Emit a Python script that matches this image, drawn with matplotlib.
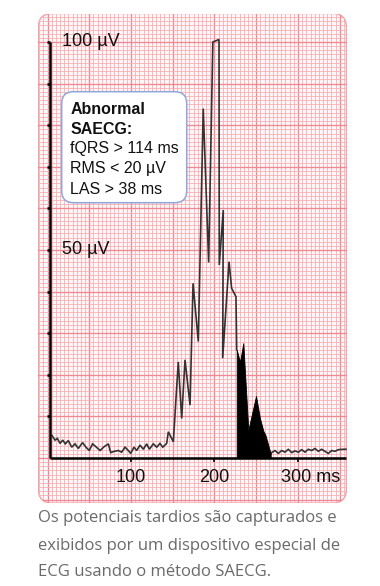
import numpy as np
import matplotlib
matplotlib.use("Agg")
import matplotlib.pyplot as plt
from matplotlib.patches import FancyBboxPatch

# signal averaged ECG trace (time in ms, amplitude in uV)
sig_ms = [5.4, 9, 11.8, 15, 18.2, 21.3, 24.9, 29, 33, 36.9, 42, 46, 50, 54, 58,
          63, 67.7, 72.9, 75.7, 80, 84.8, 88.8, 92.8, 96.8, 99.6, 103.6, 106.8,
          110.8, 114.8, 118.8, 122, 126.7, 130.8, 134.7, 138, 142.7, 144.7,
          150.7, 156.6, 160.7, 164.7, 170.7, 174.3, 180.6, 186.5, 193, 198,
          205.4, 205.7, 210.5, 209.8, 217.4, 220.5, 225.7, 226.6]
sig_uv = [5.4, 4.3, 4.7, 3.5, 4.3, 3.4, 4.2, 2.6, 3.4, 2.3, 3.7, 2.6, 1.8, 3.4,
          2.7, 1.8, 2.7, 3.4, 1.3, 1.6, 1.8, 1.4, 2.6, 1.8, 1.1, 2.6, 1.8, 3.1,
          2.1, 3.4, 2.1, 3.4, 2.6, 3.5, 2.6, 3.5, 6.3, 3.9, 23.1, 9.5, 23.6,
          12.7, 42, 28, 84, 47, 100, 100.6, 46.4, 59.6, 24, 47.2, 40.8, 38.8, 26]

# late potentials (filled black)
lp_ms = [226.6, 230.5, 234.5, 240.5, 249.7, 254.5, 258.5, 261, 267.3]
lp_uv = [26, 23.1, 27.6, 6.7, 14.9, 9.5, 6.5, 5.5, 1.0]

# tail noise after the late potentials
tail_ms = [267.3, 268.5, 272.5, 276.4, 280.5, 284.4, 288.4, 292.4, 296.4, 300.4,
           304.4, 308.4, 312.3, 316.4, 320.4, 324.3, 328.3, 332.3, 336.3, 340.4,
           344.3, 348.3, 354.2, 357.5]
tail_uv = [1.0, 1.3, 1.8, 1.1, 1.8, 1.4, 2.1, 1.3, 1.7, 1.4, 2.0, 1.4, 2.1, 1.8,
           2.3, 1.6, 2.1, 1.6, 1.1, 1.8, 1.6, 2.0, 2.1, 2.1]

xticks = [100, 200, 300]
xtick_labels = ["100", "200", "300 ms"]
yticks = [10, 20, 30, 40, 50, 60, 70, 80, 90, 100]
box_lines = ["Abnormal", "SAECG:", "fQRS > 114 ms", "RMS < 20 µV", "LAS > 38 ms"]
box_bold = [True, True, False, False, False]
caption = ["Os potenciais tardios são capturados e",
           "exibidos por um dispositivo especial de",
           "ECG usando o método SAECG."]

W, H = 380, 586
fig = plt.figure(figsize=(W / 100, H / 100), dpi=100)
fig.patch.set_facecolor("white")

# panel in pixels
pl, pr, pt, pb = 38.3, 346.5, 13.5, 503
ax = fig.add_axes([pl / W, 1 - pb / H, (pr - pl) / W, (pb - pt) / H])
ax.set_axis_off()

PX_MS, PX_UV = 0.835, 4.16
X0_PX, Y0_PX = 47.5, 458


def X(px):
    return (px - X0_PX) / PX_MS


def Y(py):
    return (Y0_PX - py) / PX_UV


ax.set_xlim(X(pl), X(pr))
ax.set_ylim(Y(pb), Y(pt))

# rounded pink panel
r = 14
panel = FancyBboxPatch((X(pl), Y(pb)), X(pr) - X(pl), Y(pt) - Y(pb),
                       boxstyle="round,pad=0,rounding_size=%f" % (r / PX_MS),
                       mutation_aspect=PX_MS / PX_UV,
                       facecolor="#fff7f8", edgecolor="#f3a2a9", lw=1.0, zorder=0)
ax.add_patch(panel)

# ECG paper grid
minor_c, major_c = "#f6b0b6", "#ef8892"
for v in np.arange(-10, 360, 5):
    major = v % 50 == 0
    ln = ax.axvline(v, color=major_c if major else minor_c,
                    lw=0.95 if major else 0.6, zorder=1)
    ln.set_clip_path(panel)
for v in np.arange(-10, 107, 1):
    major = v % 10 == 0
    ln = ax.axhline(v, color=major_c if major else minor_c,
                    lw=0.95 if major else 0.6, zorder=1)
    ln.set_clip_path(panel)

# axes lines
ax_x0 = X(50)
ax.plot([ax_x0, ax_x0], [0, 100], color="black", lw=1.8, zorder=5,
        solid_capstyle="butt")
ax.plot([ax_x0, X(346)], [0, 0], color="black", lw=1.8, zorder=5,
        solid_capstyle="butt")
ax.hlines(yticks, ax_x0 - 3.2, ax_x0, color="black", lw=1.8, zorder=5)
ax.vlines(xticks, -0.9, 0, color="black", lw=1.2, zorder=5)

font = ["Liberation Sans", "DejaVu Sans"]
for xv, lab in zip(xticks, xtick_labels):
    if lab.endswith("ms"):
        ax.text(X(280.7), Y(477), lab, ha="left", va="center", fontsize=13,
                family=font, color="#111111", zorder=6)
    else:
        ax.text(xv, Y(477), lab, ha="center", va="center", fontsize=13,
                family=font, color="#111111", zorder=6)
ax.text(X(62), 100, "100 µV", ha="left", va="center", fontsize=13,
        family=font, color="#111111", zorder=6)
ax.text(X(62), 50, "50 µV", ha="left", va="center", fontsize=13,
        family=font, color="#111111", zorder=6)

# signal
ax.plot(sig_ms, sig_uv, color="#333333", lw=1.2, zorder=4,
        solid_joinstyle="miter")
ax.plot(tail_ms, tail_uv, color="#333333", lw=1.2, zorder=4)
ax.fill_between(lp_ms, lp_uv, 0, color="black", lw=0.6, zorder=4)

# criteria box
bx0, bx1, by0, by1 = 61.7, 186.7, 91.7, 202.7
rb = 12
box = FancyBboxPatch((X(bx0), Y(by1)), X(bx1) - X(bx0), Y(by0) - Y(by1),
                     boxstyle="round,pad=0,rounding_size=%f" % (rb / PX_MS),
                     mutation_aspect=PX_MS / PX_UV,
                     facecolor="white", edgecolor="#8fa8dc", lw=1.1, zorder=7)
ax.add_patch(box)
line_y = [110, 129, 149, 169, 189]
for yy, line, bold in zip(line_y, box_lines, box_bold):
    ax.text(X(70.5), Y(yy), line, ha="left", va="center", fontsize=11.5,
            family=font, weight="bold" if bold else "normal",
            color="#111111", zorder=8)

# caption
for i, line in enumerate(caption):
    fig.text(37.5 / W, 1 - (518.5 + 27 * i) / H, line, ha="left", va="center",
             fontsize=12, family=["Open Sans", "DejaVu Sans"], color="#6a6a6a")

fig.savefig("out.png", dpi=100, facecolor="white")
